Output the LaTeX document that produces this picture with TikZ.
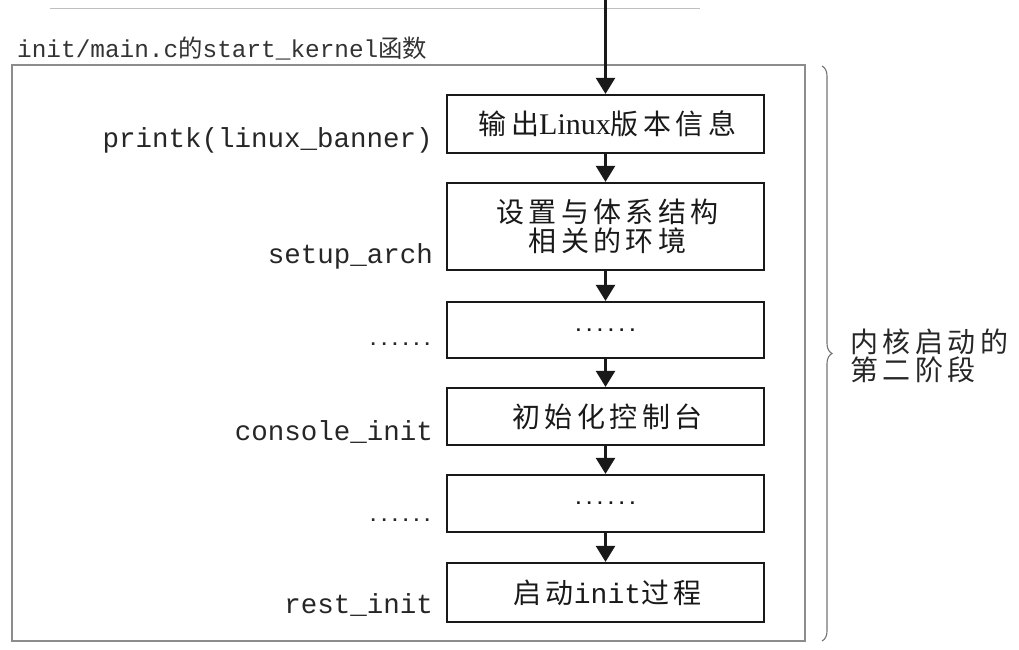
\documentclass[tikz,border=0pt]{standalone}
\usepackage{fontspec}
\setmainfont{Liberation Serif}
\setmonofont{Liberation Mono}
\newfontfamily\cjk[LetterSpace=16]{Noto Sans CJK SC}
\newfontfamily\cjktight{Noto Sans CJK SC}
\usetikzlibrary{arrows.meta,decorations.pathreplacing}

\tikzset{
  stepbox/.style={draw=black!90, line width=2.2pt, minimum width=317pt,
    inner sep=0pt, align=center, text=black!90,
    font=\cjk\fontsize{28}{29}\selectfont},
  flow/.style={line width=2.4pt, draw=black!90,
    -{Triangle[width=19pt,length=16pt]}},
  calllabel/.style={anchor=base east, inner sep=0pt, text=black!85,
    font=\ttfamily\fontsize{27.5}{30}\selectfont},
  dotsfont/.style={font=\ttfamily\bfseries\fontsize{18}{20}\selectfont},
  framecol/.style={draw=black!45, line width=1.1pt},
}

\begin{document}
\begin{tikzpicture}[x=1pt,y=-1pt]
  \useasboundingbox (0,0) rectangle (1019,649);

  % faint ruling at the very top
  \draw[black!25, line width=0.8pt] (50,8) -- (700,8);

  % enclosing frame of start_kernel
  \coordinate (ftl) at (12,65);
  \coordinate (fbr) at (805,641);
  \draw[framecol] (ftl) rectangle (fbr);

  % title
  \node[anchor=base west, inner sep=0pt, text=black!80,
        font=\ttfamily\fontsize{24.4}{26}\selectfont] (title) at (17,57)
    {init/main.c{\cjktight 的}start\_kernel{\cjktight 函数}};

  % steps (a leading kern balances the trailing letter space)
  \node[stepbox, minimum height=58pt] (b1) at (605.5,124)
    {\kern4pt 输出{\rmfamily\fontsize{30}{30}\selectfont Linux}版本信息};
  \node[stepbox, minimum height=87pt] (b2) at (605.5,226.5)
    {\kern4pt 设置与体系结构\\\kern4pt 相关的环境};
  \node[stepbox, minimum height=56pt, dotsfont] (b3) at (605.5,330)
    {\raisebox{-2pt}{......}};
  \node[stepbox, minimum height=57pt] (b4) at (605.5,416.5)
    {\kern4pt 初始化控制台};
  \node[stepbox, minimum height=57pt, dotsfont] (b5) at (605.5,503.5)
    {\raisebox{-2pt}{......}};
  \node[stepbox, minimum height=59pt] (b6) at (605.5,592.5)
    {\kern4pt 启动{\ttfamily init}过程};

  % flow arrows
  \coordinate (entry) at (605.5,0);
  \draw[flow] (entry) -- (b1.north);
  \draw[flow] (b1.south) -- (b2.north);
  \draw[flow] (b2.south) -- (b3.north);
  \draw[flow] (b3.south) -- (b4.north);
  \draw[flow] (b4.south) -- (b5.north);
  \draw[flow] (b5.south) -- (b6.north);

  % function calls
  \node[calllabel] (l1) at (433,147) {printk(linux\_banner)};
  \node[calllabel] (l2) at (433,263) {setup\_arch};
  \node[calllabel, dotsfont] (l3) at (433,345) {......};
  \node[calllabel] (l4) at (433,440) {console\_init};
  \node[calllabel, dotsfont] (l5) at (433,521) {......};
  \node[calllabel] (l6) at (433,613) {rest\_init};

  % brace for the second boot stage
  \coordinate (bt) at (822,66);
  \coordinate (bb) at (822,641);
  \draw[black!55, line width=1.1pt, decorate,
        decoration={brace, amplitude=10pt}] (bt) -- (bb);
  \node[anchor=west, align=left, inner sep=0pt, text=black!85,
        font=\cjk\fontsize{28}{28}\selectfont] (stage) at (850,356)
    {内核启动的\\第二阶段};
\end{tikzpicture}
\end{document}
